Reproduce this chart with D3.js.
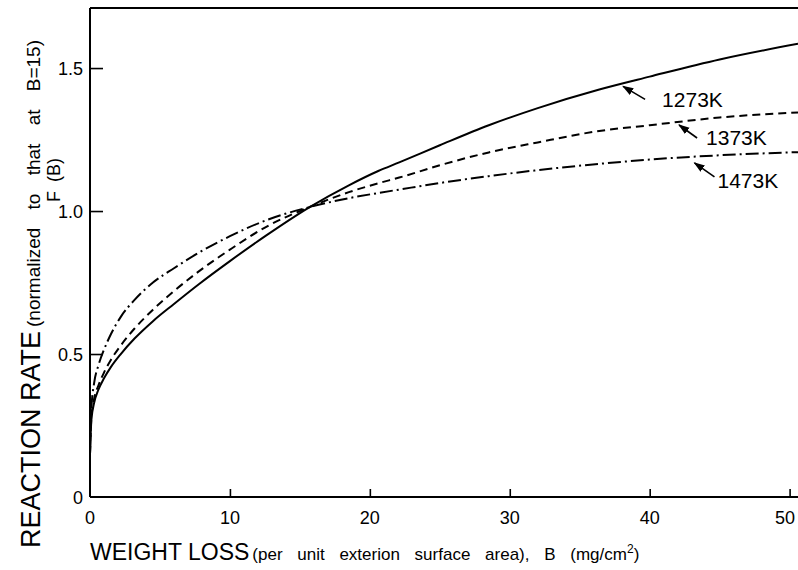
<!DOCTYPE html>
<html>
<head>
<meta charset="utf-8">
<script src="https://cdn.jsdelivr.net/npm/d3@7"></script>
<style>
  body { margin: 0; background: #fff; }
  svg { display: block; font-family: "Liberation Sans", Arial, sans-serif; }
</style>
</head>
<body>
<svg id="chart" width="798" height="570"></svg>
<script>
// weight loss B (mg/cm2)
const B = [0, 0.1, 0.3, 0.6, 1, 1.5, 2.2, 3.2, 4.5, 6, 7.8, 10, 12.6, 15.7, 18.5, 20.6, 22.1, 25, 28.5, 32, 36.4, 40, 45, 50.6];
// F(B), normalized to B=15
const f1273 = [0.15, 0.27, 0.33, 0.375, 0.415, 0.455, 0.50, 0.555, 0.615, 0.675, 0.745, 0.825, 0.915, 1.014, 1.09, 1.14, 1.17, 1.23, 1.30, 1.36, 1.425, 1.47, 1.53, 1.585];
const f1373 = [0.15, 0.28, 0.345, 0.39, 0.435, 0.48, 0.53, 0.59, 0.655, 0.72, 0.79, 0.865, 0.945, 1.014, 1.066, 1.097, 1.117, 1.16, 1.205, 1.24, 1.28, 1.30, 1.327, 1.345];
const f1473 = [0.15, 0.31, 0.40, 0.46, 0.515, 0.57, 0.63, 0.69, 0.75, 0.80, 0.855, 0.912, 0.968, 1.014, 1.045, 1.063, 1.075, 1.098, 1.122, 1.143, 1.165, 1.18, 1.195, 1.206];
const xTicks = [0, 10, 20, 30, 40, 50];
const yTicks = [0, 0.5, 1.0, 1.5];
const seriesNames = ["1273K", "1373K", "1473K"];
// B value where each label's arrow points
const labelB = [38.1, 42.1, 43.2];

const svg = d3.select("#chart");
const x = d3.scaleLinear().domain([0, 50.6]).range([90, 798]);
const y = d3.scaleLinear().domain([0, 1.71]).range([497, 8]);

// frame: left, bottom, top
const frame = svg.append("g").attr("stroke", "#000").attr("stroke-width", 2).attr("fill", "none");
frame.append("line").attr("x1", x(0)).attr("x2", x(0)).attr("y1", y(0)).attr("y2", y(1.71));
frame.append("line").attr("x1", x(0)).attr("x2", 798).attr("y1", y(0)).attr("y2", y(0));
frame.append("line").attr("x1", x(0)).attr("x2", 798).attr("y1", y(1.71)).attr("y2", y(1.71));

// inward ticks
const xAxis = svg.append("g")
  .attr("transform", `translate(0,${y(0)})`)
  .call(d3.axisTop(x).tickValues(xTicks.slice(1)).tickSize(8).tickFormat(""));
xAxis.select(".domain").remove();
xAxis.selectAll("line").attr("stroke-width", 1.6);

const yAxis = svg.append("g")
  .attr("transform", `translate(${x(0)},0)`)
  .call(d3.axisRight(y).tickValues(yTicks.slice(1)).tickSize(13).tickFormat(""));
yAxis.select(".domain").remove();
yAxis.selectAll("line").attr("stroke-width", 1.6);

// tick labels (last one kept inside the page edge)
svg.append("g").selectAll("text").data(xTicks).join("text")
  .attr("x", d => Math.min(x(d), 785)).attr("y", 524)
  .attr("text-anchor", "middle").attr("font-size", 18)
  .text(d => d);
svg.append("g").selectAll("text").data(yTicks).join("text")
  .attr("x", 83).attr("y", d => y(d) + 7)
  .attr("text-anchor", "end").attr("font-size", 18)
  .text(d => d === 0 ? "0" : d.toFixed(1));

// curves
const series = [f1273, f1373, f1473];
const dashes = [null, "8,5", "13,4,2,4"];
const line = d3.line().x(d => x(d[0])).y(d => y(d[1])).curve(d3.curveMonotoneX);
svg.append("g").selectAll("path").data(series).join("path")
  .attr("d", s => line(B.map((b, i) => [b, s[i]])))
  .attr("fill", "none").attr("stroke", "#000").attr("stroke-width", 2)
  .attr("stroke-dasharray", (s, i) => dashes[i]);

// labels with arrows
svg.append("defs").append("marker").attr("id", "arr").attr("viewBox", "0 0 10 10")
  .attr("refX", 9).attr("refY", 5).attr("markerWidth", 7).attr("markerHeight", 7)
  .attr("orient", "auto")
  .append("path").attr("d", "M0,1.5 L10,5 L0,8.5 Z").attr("fill", "#000");

const tail = [[22, 13], [18, 13], [20, 14]];
const textOff = [[39, 21], [27, 20], [23, 25]];
const interp = s => d3.scaleLinear().domain(B).range(s);
const lab = svg.append("g");
seriesNames.forEach((name, i) => {
  const bx = labelB[i];
  const px = x(bx), py = y(interp(series[i])(bx)) + (i === 2 ? 6 : 3);
  lab.append("line")
    .attr("x1", px + tail[i][0]).attr("y1", py + tail[i][1]).attr("x2", px).attr("y2", py)
    .attr("stroke", "#000").attr("stroke-width", 1.6).attr("marker-end", "url(#arr)");
  lab.append("text")
    .attr("x", px + textOff[i][0]).attr("y", py + textOff[i][1])
    .attr("font-size", 21)
    .text(name);
});

// x axis title
svg.append("text").attr("x", 90).attr("y", 560)
  .call(t => t.append("tspan").attr("font-size", 23).text("WEIGHT LOSS"))
  .call(t => t.append("tspan").attr("font-size", 17).attr("dx", 3).attr("word-spacing", 10)
    .text("(per unit exterion surface  area), B (mg/cm"))
  .call(t => t.append("tspan").attr("font-size", 12).attr("dy", -7).text("2"))
  .call(t => t.append("tspan").attr("font-size", 17).attr("dy", 7).text(")"));

// y axis title
const yt = svg.append("g");
yt.append("text").attr("transform", "translate(40,548) rotate(-90)")
  .call(t => t.append("tspan").attr("font-size", 27).text("REACTION RATE"))
  .call(t => t.append("tspan").attr("font-size", 19).attr("dx", 4).attr("word-spacing", 13)
    .text("(normalized to that at B=15)"));
yt.append("text").attr("transform", "translate(60,180) rotate(-90)")
  .attr("text-anchor", "middle").attr("font-size", 18).attr("word-spacing", 4)
  .text("F (B)");
</script>
</body>
</html>
